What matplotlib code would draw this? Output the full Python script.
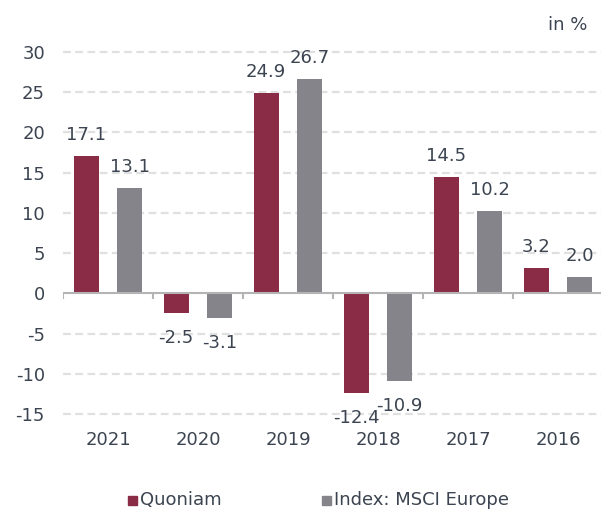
import matplotlib
matplotlib.use("Agg")
import matplotlib.pyplot as plt
from matplotlib.patches import Rectangle
from matplotlib.transforms import blended_transform_factory
import numpy as np

years = ["2021", "2020", "2019", "2018", "2017", "2016"]
quoniam = [17.1, -2.5, 24.9, -12.4, 14.5, 3.2]
msci = [13.1, -3.1, 26.7, -10.9, 10.2, 2.0]
series_names = ["Quoniam", "Index: MSCI Europe"]
yticks = [30, 25, 20, 15, 10, 5, 0, -5, -10, -15]

c_q = "#8b2c47"
c_m = "#85848b"
txt = "#3b4450"

W, H = 601, 511
fig = plt.figure(figsize=(W / 100, H / 100), dpi=100)
ax = fig.add_axes([63 / W, (H - 414) / H, 540 / W, 362 / H])
ax.set_xlim(-0.5, len(years) - 0.5)
ax.set_ylim(-15, 30)
for s in ax.spines.values():
    s.set_visible(False)

x = np.arange(len(years))
off = 0.242
bw = 0.278
for v in yticks:
    if v != 0:
        ax.axhline(v, color="#e0e0e0", lw=1.6, ls=(0, (3.5, 2)), zorder=0, clip_on=False)

ax.bar(x - off, quoniam, bw, color=c_q, zorder=2)
ax.bar(x + off, msci, bw, color=c_m, zorder=2)

ax.axhline(0, color="#b4b4b4", lw=1.5, zorder=3)
ax.vlines(np.arange(len(years)) - 0.5, -0.7, 0, color="#b4b4b4", lw=1.5, zorder=3)

for xs, vals in ((x - off, quoniam), (x + off, msci)):
    for xi, v in zip(xs, vals):
        dy = 15 if v >= 0 else -18
        ax.annotate(f"{v:.1f}", (xi, v), xytext=(0, dy), textcoords="offset points",
                    ha="center", va="center", fontsize=13, color=txt, clip_on=False, zorder=4)

ax.set_yticks(yticks)
ax.set_yticklabels([str(t) for t in yticks], fontsize=13, color=txt)
ax.tick_params(axis="y", length=0, pad=13)
ax.set_xticks([])

tr = blended_transform_factory(ax.transData, fig.transFigure)
for xi, y in zip(x, years):
    ax.text(xi, 1 - 440 / H, y, transform=tr, ha="center", va="center", fontsize=13, color=txt)

fig.text(587 / W, 1 - 25 / H, "in %", ha="right", va="center", fontsize=13, color=txt)

# legend
for (sx, name, col) in ((128, series_names[0], c_q), (322, series_names[1], c_m)):
    fig.add_artist(Rectangle((sx / W, 1 - 505 / H), 9 / W, 9 / H, transform=fig.transFigure,
                             color=col, clip_on=False))
    fig.text((sx + 12) / W, 1 - 500 / H, name, ha="left", va="center", fontsize=13, color=txt)

fig.savefig("out.png", dpi=100)
